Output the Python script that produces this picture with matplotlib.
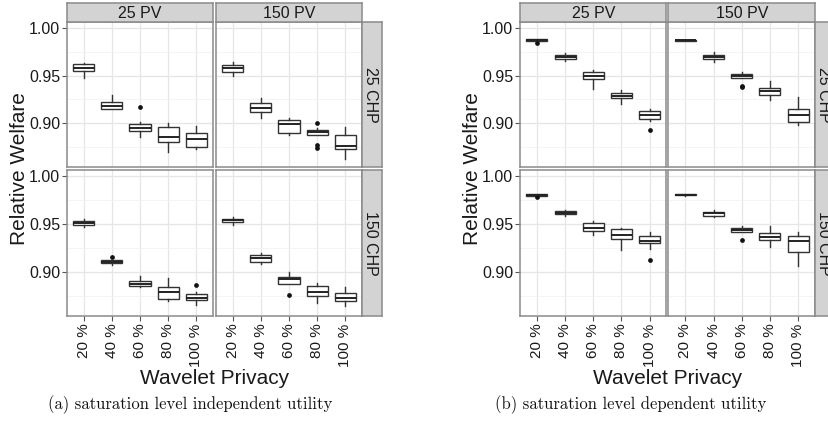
import matplotlib
matplotlib.use("Agg")
import matplotlib.pyplot as plt

W, H = 829, 432

categories = ["20 %", "40 %", "60 %", "80 %", "100 %"]
pv_labels = ["25 PV", "150 PV"]
chp_labels = ["25 CHP", "150 CHP"]
y_ticks = [0.90, 0.95, 1.00]
y_minor = [0.875, 0.925, 0.975]
y_tick_labels = ["0.90", "0.95", "1.00"]
y_label = "Relative Welfare"
x_label = "Wavelet Privacy"
captions = ["(a) saturation level independent utility",
            "(b) saturation level dependent utility"]

# box stats per category: (whisker low, q1, median, q3, whisker high)
# (a) saturation level independent utility
a_chp25_pv25 = [(0.9478, 0.9548, 0.9582, 0.9624, 0.9635),
                (0.9145, 0.9147, 0.9186, 0.9220, 0.9294),
                (0.8855, 0.8914, 0.8949, 0.8987, 0.9008),
                (0.8698, 0.8803, 0.8855, 0.8956, 0.8998),
                (0.8730, 0.8751, 0.8831, 0.8897, 0.8973)]
a_chp25_pv25_out = [[], [], [0.9175], [], []]
a_chp25_pv150 = [(0.9499, 0.9537, 0.9582, 0.9617, 0.9642),
                 (0.9053, 0.9113, 0.9165, 0.9214, 0.9266),
                 (0.8876, 0.8897, 0.8991, 0.9033, 0.9050),
                 (0.8879, 0.8879, 0.8904, 0.8925, 0.8949),
                 (0.8625, 0.8730, 0.8761, 0.8876, 0.8956)]
a_chp25_pv150_out = [[], [], [], [0.9001, 0.8772, 0.8737], []]
a_chp150_pv25 = [(0.9468, 0.9486, 0.9507, 0.9535, 0.9549),
                 (0.9076, 0.9090, 0.9104, 0.9122, 0.9129),
                 (0.8845, 0.8849, 0.8877, 0.8908, 0.8954),
                 (0.8698, 0.8719, 0.8786, 0.8842, 0.8936),
                 (0.8657, 0.8705, 0.8730, 0.8765, 0.8789)]
a_chp150_pv25_out = [[], [0.9153], [], [], [0.8866]]
a_chp150_pv150 = [(0.9489, 0.9520, 0.9538, 0.9552, 0.9570),
                  (0.9080, 0.9108, 0.9146, 0.9178, 0.9202),
                  (0.8870, 0.8870, 0.8922, 0.8947, 0.9003),
                  (0.8674, 0.8744, 0.8786, 0.8852, 0.8884),
                  (0.8646, 0.8695, 0.8727, 0.8782, 0.8845)]
a_chp150_pv150_out = [[], [], [0.8761], [], []]

# (b) saturation level dependent utility
b_chp25_pv25 = [(0.9866, 0.9868, 0.9875, 0.9882, 0.9885),
                (0.9655, 0.9676, 0.9697, 0.9718, 0.9742),
                (0.9363, 0.9464, 0.9502, 0.9541, 0.9555),
                (0.9203, 0.9262, 0.9287, 0.9314, 0.9353),
                (0.9022, 0.9043, 0.9085, 0.9130, 0.9147)]
b_chp25_pv25_out = [[0.9843], [], [], [], [0.8932]]
b_chp25_pv150 = [(0.9866, 0.9869, 0.9873, 0.9878, 0.9880),
                 (0.9649, 0.9676, 0.9697, 0.9718, 0.9750),
                 (0.9481, 0.9481, 0.9502, 0.9523, 0.9537),
                 (0.9245, 0.9294, 0.9335, 0.9367, 0.9440),
                 (0.8980, 0.9012, 0.9088, 0.9147, 0.9273)]
b_chp25_pv150_out = [[], [], [0.9390, 0.9380], [], []]
b_chp150_pv25 = [(0.9797, 0.9797, 0.9804, 0.9811, 0.9815),
                 (0.9584, 0.9601, 0.9618, 0.9636, 0.9650),
                 (0.9384, 0.9430, 0.9454, 0.9510, 0.9534),
                 (0.9230, 0.9339, 0.9384, 0.9447, 0.9454),
                 (0.9240, 0.9304, 0.9321, 0.9380, 0.9412)]
b_chp150_pv25_out = [[0.9783], [], [], [], [0.9121]]
b_chp150_pv150 = [(0.9798, 0.9800, 0.9807, 0.9815, 0.9817),
                  (0.9570, 0.9587, 0.9611, 0.9629, 0.9650),
                  (0.9416, 0.9416, 0.9437, 0.9458, 0.9475),
                  (0.9265, 0.9332, 0.9370, 0.9405, 0.9479),
                  (0.9063, 0.9209, 0.9318, 0.9374, 0.9419)]
b_chp150_pv150_out = [[], [], [0.9335], [], []]

panels = {
    (0, 0, 0): (a_chp25_pv25, a_chp25_pv25_out),
    (0, 0, 1): (a_chp25_pv150, a_chp25_pv150_out),
    (0, 1, 0): (a_chp150_pv25, a_chp150_pv25_out),
    (0, 1, 1): (a_chp150_pv150, a_chp150_pv150_out),
    (1, 0, 0): (b_chp25_pv25, b_chp25_pv25_out),
    (1, 0, 1): (b_chp25_pv150, b_chp25_pv150_out),
    (1, 1, 0): (b_chp150_pv25, b_chp150_pv25_out),
    (1, 1, 1): (b_chp150_pv150, b_chp150_pv150_out),
}

SANS = "Liberation Sans"
SERIF = "cmr10"
BORDER = "#8a8a8a"
STRIP = "#d3d3d3"
TXT = "#1a1a1a"


def rect(x0, y0, x1, y1):
    return [x0 / W, 1 - y1 / H, (x1 - x0) / W, (y1 - y0) / H]


fig = plt.figure(figsize=(W / 100, H / 100), dpi=100)
fig.patch.set_facecolor("white")

chart_cols = [[(67, 213), (216, 362)], [(520, 666.5), (668.5, 815)]]
chart_rstrip = [(362, 382), (815, 835)]
rows = [(22, 167), (170, 316)]
top_strip = (3, 22)
ylab_x = [20, 473]
xlab_y = 378
cap_x = [190, 631]
cap_y = 405

for c in range(2):
    for r in range(2):
        for k in range(2):
            x0, x1 = chart_cols[c][k]
            y0, y1 = rows[r]
            ax = fig.add_axes(rect(x0, y0, x1, y1))
            stats, outs = panels[(c, r, k)]
            bstats = []
            for i, (lo, q1, med, q3, hi) in enumerate(stats):
                bstats.append(dict(whislo=lo, q1=q1, med=med, q3=q3,
                                   whishi=hi, fliers=outs[i], label=categories[i]))
            ax.bxp(bstats, positions=list(range(1, 6)), widths=0.75,
                   patch_artist=True, showcaps=False,
                   boxprops=dict(facecolor="white", edgecolor="#333333", linewidth=1.0),
                   medianprops=dict(color="#222222", linewidth=1.4),
                   whiskerprops=dict(color="#333333", linewidth=1.0),
                   flierprops=dict(marker="o", markersize=2.4, markerfacecolor="#111111",
                                   markeredgecolor="#111111", linestyle="none"),
                   zorder=3)
            ax.set_xlim(0.4, 5.6)
            ax.set_ylim(0.8538, 1.0066)
            ax.set_yticks(y_ticks)
            ax.set_yticks(y_minor, minor=True)
            ax.set_xticks(range(1, 6))
            ax.grid(True, which="major", color="#e6e6e6", linewidth=0.9, zorder=0)
            ax.grid(True, which="minor", axis="y", color="#f2f2f2", linewidth=0.6, zorder=0)
            ax.set_axisbelow(True)
            for s in ax.spines.values():
                s.set_color(BORDER)
                s.set_linewidth(1.1)
            ax.tick_params(which="minor", length=0)
            ax.tick_params(which="major", length=3.5, color="#555555", width=0.8)
            if k == 0:
                ax.set_yticklabels(y_tick_labels, fontsize=11.5, family=SANS, color=TXT)
                ax.tick_params(axis="y", pad=1.5)
            else:
                ax.tick_params(axis="y", left=False, labelleft=False)
            if r == 1:
                ax.set_xticklabels(categories, rotation=90, fontsize=11,
                                   family=SANS, color=TXT, va="top", ha="center")
                ax.tick_params(axis="x", pad=2)
            else:
                ax.tick_params(axis="x", bottom=False, labelbottom=False)

            # top strips
            if r == 0:
                sax = fig.add_axes(rect(x0, top_strip[0], x1, top_strip[1]))
                sax.set_facecolor(STRIP)
                sax.set_xticks([]); sax.set_yticks([])
                for s in sax.spines.values():
                    s.set_color(BORDER); s.set_linewidth(1.1)
                sax.text(0.5, 0.45, pv_labels[k], transform=sax.transAxes,
                         ha="center", va="center", fontsize=11.5, family=SANS, color=TXT)
        # right strips
        sx0, sx1 = chart_rstrip[c]
        y0, y1 = rows[r]
        rax = fig.add_axes(rect(sx0, y0, sx1, y1))
        rax.set_facecolor(STRIP)
        rax.set_xticks([]); rax.set_yticks([])
        for s in rax.spines.values():
            s.set_color(BORDER); s.set_linewidth(1.1)
        rax.text(0.45, 0.5, chp_labels[r], transform=rax.transAxes, rotation=-90,
                 ha="center", va="center", fontsize=11.5, family=SANS, color=TXT)

    fig.text(ylab_x[c] / W, 1 - 169 / H, y_label, rotation=90, ha="center", va="center",
             fontsize=15, family=SANS, color=TXT)
    xc = (chart_cols[c][0][0] + chart_cols[c][1][1]) / 2
    fig.text(xc / W, 1 - xlab_y / H, x_label, ha="center", va="center",
             fontsize=15, family=SANS, color=TXT)
    fig.text(cap_x[c] / W, 1 - cap_y / H, captions[c], ha="center", va="center",
             fontsize=12, family=SERIF, color="#111111")

fig.savefig("out.png", dpi=100, facecolor="white")
